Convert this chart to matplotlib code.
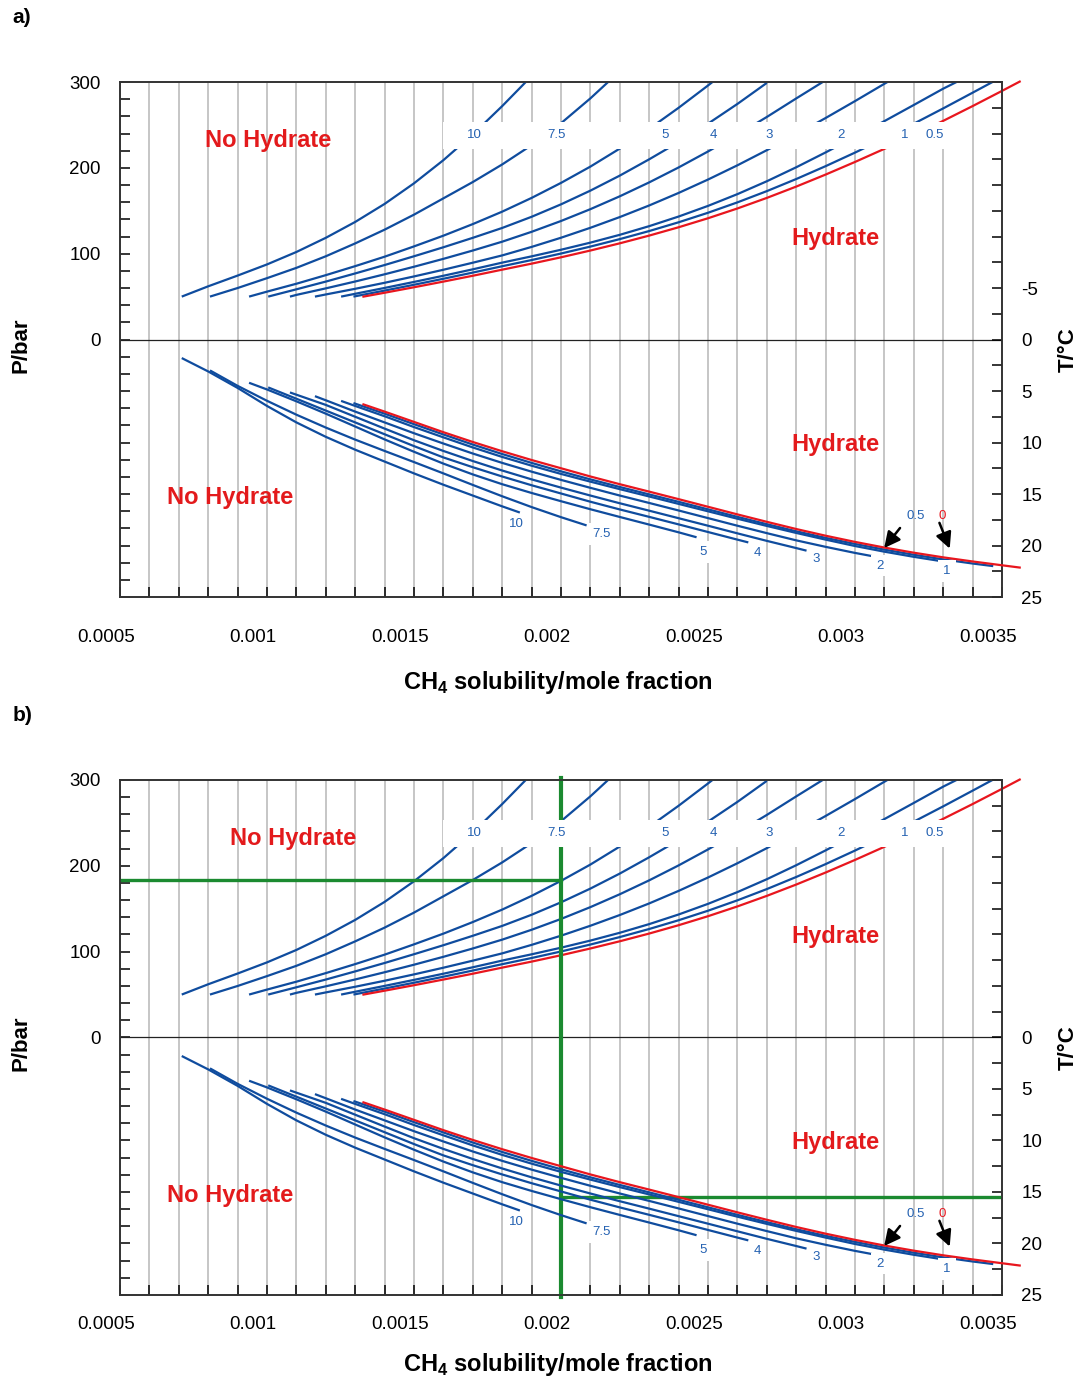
import numpy as np
import matplotlib
matplotlib.use('Agg')
import matplotlib.pyplot as plt
from matplotlib.patches import Rectangle
from matplotlib.transforms import ScaledTranslation

plt.rcParams['font.family'] = ['Liberation Sans', 'DejaVu Sans']
plt.rcParams['mathtext.fontset'] = 'custom'
plt.rcParams['mathtext.rm'] = 'Liberation Sans'
plt.rcParams['mathtext.bf'] = 'Liberation Sans:bold'
plt.rcParams['axes.unicode_minus'] = False

BLUE = '#0f4c9e'
LABEL_BLUE = '#2461b1'
RED = '#e8161e'
GREEN = '#1b8a30'

# upper branch: CH4 mole fraction vs pressure (bar), one pair per NaCl wt%
xp_10 = [0.00071, 0.0008, 0.0009, 0.001, 0.0011, 0.0012, 0.0013, 0.0014, 0.0015,
         0.0016, 0.0017, 0.0018, 0.00188]
p_10 = [50, 62, 74.5, 87.5, 102, 118.5, 137, 158, 182, 209, 239, 272, 300]
xp_75 = [0.000806, 0.0009, 0.001, 0.0011, 0.0012, 0.0013, 0.0014, 0.0015, 0.0016,
         0.0017, 0.0018, 0.0019, 0.002, 0.0021, 0.00216]
p_75 = [50, 60, 71.5, 83.5, 97, 112, 128, 145.5, 164.5, 183.5, 204, 226.5, 252, 281, 300]
xp_5 = [0.000939, 0.001, 0.0011, 0.0012, 0.0013, 0.0014, 0.0015, 0.0016, 0.0017,
        0.0018, 0.0019, 0.002, 0.0021, 0.0022, 0.0023, 0.0024, 0.0025, 0.002515]
p_5 = [50, 55.8, 65, 75, 85.5, 96.5, 108.5, 121, 134.5, 149, 165, 182.5, 201.5,
       222.5, 245.5, 270, 296, 300]
xp_4 = [0.001004, 0.0011, 0.0012, 0.0013, 0.0014, 0.0015, 0.0016, 0.0017, 0.0018,
        0.0019, 0.002, 0.0021, 0.0022, 0.0023, 0.0024, 0.0025, 0.0026, 0.0027]
p_4 = [50, 58.5, 67.5, 77, 86.8, 97, 107.5, 118.5, 130, 143, 157.5, 173.5, 191,
       210, 230, 251.5, 274.5, 299]
xp_3 = [0.001078, 0.0011, 0.0012, 0.0013, 0.0014, 0.0015, 0.0016, 0.0017, 0.0018,
        0.0019, 0.002, 0.0021, 0.0022, 0.0023, 0.0024, 0.0025, 0.0026, 0.0027,
        0.0028, 0.00289]
p_3 = [50, 52, 59.6, 67.6, 76, 84.8, 94, 103.7, 114, 125.5, 138.1, 151.9, 166.9,
       183.1, 200.5, 219.1, 238.7, 259.3, 280.9, 300]
xp_2 = [0.001163, 0.0012, 0.0013, 0.0014, 0.0015, 0.0016, 0.0017, 0.0018, 0.0019,
        0.002, 0.0021, 0.0022, 0.0023, 0.0024, 0.0025, 0.0026, 0.0027, 0.0028,
        0.0029, 0.003, 0.0031, 0.00311]
p_2 = [50, 52.5, 59.1, 66.1, 73.5, 81.3, 89.5, 98, 107.9, 118.6, 130.2, 142.7,
       156.2, 170.8, 186.4, 203, 220.6, 239, 258.1, 277.8, 298, 300]
xp_1 = [0.001252, 0.0013, 0.0014, 0.0015, 0.0016, 0.0017, 0.0018, 0.0019, 0.002,
        0.0021, 0.0022, 0.0023, 0.0024, 0.0025, 0.0026, 0.0027, 0.0028, 0.0029,
        0.003, 0.0031, 0.0032, 0.0033, 0.003345]
p_1 = [50, 53.3, 60.1, 67.1, 74.3, 81.8, 89.6, 96.9, 104.6, 112.9, 122, 132.1,
       143.3, 155.7, 169.4, 184.4, 200.7, 218, 236, 254.5, 273.3, 292.3, 300]
xp_05 = [0.001294, 0.0014, 0.0015, 0.0016, 0.0017, 0.0018, 0.0019, 0.002, 0.0021,
         0.0022, 0.0023, 0.0024, 0.0025, 0.0026, 0.0027, 0.0028, 0.0029, 0.003,
         0.0031, 0.0032, 0.0033, 0.0034, 0.00347]
p_05 = [50, 57, 63.8, 70.8, 78, 85.4, 92.6, 100.2, 108.3, 117, 126.4, 136.6,
        147.7, 159.8, 172.9, 187, 202, 217.8, 234.3, 251.5, 269.3, 287.6, 300.5]
xp_0 = [0.001328, 0.0014, 0.0015, 0.0016, 0.0017, 0.0018, 0.0019, 0.002, 0.0021,
        0.0022, 0.0023, 0.0024, 0.0025, 0.0026, 0.0027, 0.0028, 0.0029, 0.003,
        0.0031, 0.0032, 0.0033, 0.0034, 0.0035, 0.00356]
p_0 = [50, 54.5, 60.9, 67.5, 74.3, 81.4, 88.4, 95.8, 103.7, 112.1, 121.1, 130.8,
       141.3, 152.7, 165, 178.2, 192.2, 206.9, 222.2, 238.2, 254.8, 272, 289.7, 300.5]

# lower branch: CH4 mole fraction vs temperature (deg C)
xt_10 = [0.00071, 0.0008, 0.0009, 0.001, 0.0011, 0.0012, 0.0013, 0.0014, 0.0015,
         0.0016, 0.0017, 0.0018, 0.00186]
t_10 = [1.8, 3.1, 4.7, 6.45, 8.05, 9.45, 10.7, 11.85, 13.0, 14.1, 15.15, 16.2, 16.8]
xt_75 = [0.000806, 0.0009, 0.001, 0.0011, 0.0012, 0.0013, 0.0014, 0.0015, 0.0016,
         0.0017, 0.0018, 0.0019, 0.002, 0.002087]
t_75 = [3.0, 4.5, 5.95, 7.3, 8.55, 9.72, 10.82, 11.9, 13.0, 14.12, 15.22, 16.27,
        17.25, 18.05]
xt_5 = [0.000939, 0.001, 0.0011, 0.0012, 0.0013, 0.0014, 0.0015, 0.0016, 0.0017,
        0.0018, 0.0019, 0.002, 0.0021, 0.0022, 0.0023, 0.0024, 0.002461]
t_5 = [4.2, 4.85, 6.0, 7.2, 8.45, 9.7, 10.9, 12.05, 13.1, 14.05, 14.9, 15.7,
       16.48, 17.23, 17.97, 18.72, 19.2]
xt_4 = [0.001004, 0.0011, 0.0012, 0.0013, 0.0014, 0.0015, 0.0016, 0.0017, 0.0018,
        0.0019, 0.002, 0.0021, 0.0022, 0.0023, 0.0024, 0.0025, 0.0026, 0.002637]
t_4 = [4.65, 5.75, 6.9, 8.05, 9.2, 10.35, 11.45, 12.4, 13.3, 14.15, 14.95, 15.75,
       16.5, 17.22, 17.95, 18.69, 19.43, 19.7]
xt_3 = [0.001078, 0.0012, 0.0013, 0.0014, 0.0015, 0.0016, 0.0017, 0.0018, 0.0019,
        0.002, 0.0021, 0.0022, 0.0023, 0.0024, 0.0025, 0.0026, 0.0027, 0.0028,
        0.002835]
t_3 = [5.14, 6.35, 7.5, 8.65, 9.78, 10.82, 11.8, 12.72, 13.58, 14.38, 15.15, 15.9,
       16.62, 17.35, 18.08, 18.82, 19.55, 20.25, 20.5]
xt_2 = [0.001163, 0.0012, 0.0013, 0.0014, 0.0015, 0.0016, 0.0017, 0.0018, 0.0019,
        0.002, 0.0021, 0.0022, 0.0023, 0.0024, 0.0025, 0.0026, 0.0027, 0.0028,
        0.0029, 0.003, 0.003056]
t_2 = [5.5, 5.9, 7.0, 8.05, 9.1, 10.1, 11.07, 11.98, 12.83, 13.63, 14.4, 15.15,
       15.87, 16.6, 17.34, 18.08, 18.8, 19.5, 20.13, 20.72, 21.02]
xt_1 = [0.001252, 0.0013, 0.0014, 0.0015, 0.0016, 0.0017, 0.0018, 0.0019, 0.002,
        0.0021, 0.0022, 0.0023, 0.0024, 0.0025, 0.0026, 0.0027, 0.0028, 0.0029,
        0.003, 0.0031, 0.0032, 0.0033, 0.003317]
t_1 = [5.96, 6.45, 7.45, 8.5, 9.5, 10.48, 11.4, 12.25, 13.05, 13.8, 14.53, 15.24,
       15.96, 16.68, 17.4, 18.1, 18.78, 19.43, 20.05, 20.6, 21.1, 21.55, 21.62]
xt_05 = [0.001294, 0.0014, 0.0015, 0.0016, 0.0017, 0.0018, 0.0019, 0.002, 0.0021,
         0.0022, 0.0023, 0.0024, 0.0025, 0.0026, 0.0027, 0.0028, 0.0029, 0.003,
         0.0031, 0.0032, 0.0033, 0.0034, 0.00347]
t_05 = [6.17, 7.2, 8.22, 9.22, 10.2, 11.12, 11.98, 12.8, 13.58, 14.32, 15.04, 15.76,
        16.49, 17.22, 17.93, 18.62, 19.26, 19.85, 20.4, 20.9, 21.35, 21.75, 22.0]
xt_0 = [0.001328, 0.0014, 0.0015, 0.0016, 0.0017, 0.0018, 0.0019, 0.002, 0.0021,
        0.0022, 0.0023, 0.0024, 0.0025, 0.0026, 0.0027, 0.0028, 0.0029, 0.003,
        0.0031, 0.0032, 0.0033, 0.0034, 0.0035, 0.00356]
t_0 = [6.3, 7.0, 8.0, 9.0, 9.95, 10.85, 11.7, 12.5, 13.3, 14.05, 14.77, 15.5, 16.24,
       16.98, 17.7, 18.4, 19.05, 19.65, 20.2, 20.7, 21.15, 21.55, 21.92, 22.14]

salinity_labels = ['10', '7.5', '5', '4', '3', '2', '1', '0.5']
upper_curves = [(xp_10, p_10), (xp_75, p_75), (xp_5, p_5), (xp_4, p_4),
                (xp_3, p_3), (xp_2, p_2), (xp_1, p_1), (xp_05, p_05)]
lower_curves = [(xt_10, t_10), (xt_75, t_75), (xt_5, t_5), (xt_4, t_4),
                (xt_3, t_3), (xt_2, t_2), (xt_1, t_1), (xt_05, t_05)]

# curve label positions
top_label_x = [0.001704, 0.001983, 0.002354, 0.002517, 0.002707, 0.002952, 0.00317, 0.003272]
bottom_label_x = [0.001847, 0.002136, 0.002483, 0.002667, 0.002867, 0.003085, 0.003313]
bottom_label_t = [17.96, 18.9, 20.6, 20.7, 21.3, 21.95, 22.5]

xtick_vals = [0.0005, 0.001, 0.0015, 0.002, 0.0025, 0.003, 0.0035]
xtick_text = ['0.0005', '0.001', '0.0015', '0.002', '0.0025', '0.003', '0.0035']

# reading lines on panel b
green_x = 0.002
green_p = 183
green_t = 15.5


def draw_panel(ax, tag, t_ticks, tick_pad, xlabel_y, guides=False):
    fig = ax.figure
    ax.set_xlim(0.0005, 0.0035)
    ax.set_ylim(-300, 300)
    ax.set_xticks(xtick_vals)
    ax.set_xticklabels(xtick_text)
    ax.set_xticks(np.arange(0.0005, 0.00351, 0.0001), minor=True)
    ax.set_yticks([0, 100, 200, 300])
    ax.set_yticks(np.arange(-300, 301, 20), minor=True)
    ax.tick_params(which='both', direction='in', length=7, width=1.1,
                   top=False, right=False, labelsize=13.5)
    ax.tick_params(axis='x', pad=tick_pad)
    ax.tick_params(axis='y', pad=14)
    for lab in ax.get_xticklabels():
        lab.set_transform(lab.get_transform() +
                          ScaledTranslation(-0.14, 0, fig.dpi_scale_trans))
    ax.set_axisbelow(True)
    ax.grid(True, axis='x', which='both', color='#bcbcbc', lw=1.2)
    ax.axhline(0, color='#222222', lw=0.9, zorder=2)
    for s in ax.spines.values():
        s.set_linewidth(1.2)
        s.set_color('#333333')

    ax2 = ax.twinx()
    ax2.set_ylim(25, -25)
    ax2.set_yticks(t_ticks)
    ax2.set_yticks(np.arange(-25, 25.1, 2.5), minor=True)
    ax2.tick_params(which='both', direction='in', length=7, width=1.1,
                    labelsize=13.5, pad=14)
    for s in ax2.spines.values():
        s.set_linewidth(1.2)
        s.set_color('#333333')

    # pressure branch
    for (xs, ps) in upper_curves:
        ax.plot(xs, ps, color=BLUE, lw=1.6, zorder=3, solid_capstyle='butt')
    ax.plot(xp_0, p_0, color=RED, lw=1.6, zorder=3.2, clip_on=False)
    ax.add_patch(Rectangle((0.0016, 222.5), 0.00335 - 0.0016, 30.5,
                           facecolor='white', edgecolor='none', zorder=4))
    for lx, lab in zip(top_label_x, salinity_labels):
        ax.text(lx, 238, lab, color=LABEL_BLUE, fontsize=9.5,
                ha='center', va='center', zorder=5)

    # temperature branch
    for (xs, ts) in lower_curves:
        ax2.plot(xs, ts, color=BLUE, lw=1.6, zorder=3, solid_capstyle='butt')
    ax2.plot(xt_0, t_0, color=RED, lw=1.6, zorder=3.2, clip_on=False)
    for lx, lt, lab in zip(bottom_label_x, bottom_label_t, salinity_labels[:7]):
        ax2.text(lx, lt, lab, color=LABEL_BLUE, fontsize=9.5, ha='center',
                 va='center', zorder=5,
                 bbox=dict(facecolor='white', edgecolor='none', pad=3.5))
    ax2.text(0.003207, 17.1, '0.5', color=LABEL_BLUE, fontsize=9.5,
             ha='center', va='center', zorder=5)
    ax2.text(0.003296, 17.1, '0', color=RED, fontsize=9.5,
             ha='center', va='center', zorder=5)
    arrow = dict(arrowstyle='-|>', color='black', lw=1.8, mutation_scale=24,
                 shrinkA=0, shrinkB=0)
    ax2.annotate('', xy=(0.003099, 20.25), xytext=(0.003153, 18.3),
                 arrowprops=arrow, zorder=6)
    ax2.annotate('', xy=(0.003322, 20.3), xytext=(0.003287, 17.8),
                 arrowprops=arrow, zorder=6)

    if guides:
        ax.axvline(green_x, color=GREEN, lw=3, zorder=3.5, clip_on=False,
                   ymin=-0.003, ymax=1.003)
        ax.plot([0.0005, green_x], [green_p, green_p], color=GREEN, lw=2.4,
                zorder=3.5)
        ax2.plot([green_x, 0.0035], [green_t, green_t], color=GREEN, lw=2.4,
                 zorder=2.5)

    # phase region labels
    region = dict(color='#e31a1c', fontsize=17, fontweight='bold',
                  ha='center', va='center')
    ax.text(0.001003 if not guides else 0.001088, 231.8, 'No Hydrate',
            zorder=5, **region)
    ax.text(0.002932, 117.3, 'Hydrate', zorder=5, **region)
    ax2.text(0.002932, 10.2, 'Hydrate', zorder=5, **region)
    ax2.text(0.000874, 15.3, 'No Hydrate', zorder=5, **region)

    ax.set_xlabel(r'CH$_\mathbf{4}$ solubility/mole fraction',
                  fontsize=17, fontweight='bold')
    ax.xaxis.set_label_coords(0.4966, xlabel_y)
    ax.set_ylabel('P/bar', fontsize=16, fontweight='bold')
    ax.yaxis.set_label_coords(-0.0998, 0.489)
    ax2.set_ylabel('T/°C', fontsize=16, fontweight='bold', rotation=90)
    ax2.yaxis.set_label_coords(1.0635, 0.48)
    ax.text(-0.122, 1.125, tag, transform=ax.transAxes, fontsize=15,
            fontweight='bold', ha='left', va='center')


fig = plt.figure(figsize=(10.86, 13.81), dpi=100)
ax_a = fig.add_axes([0.1105, 0.5677, 0.8122, 0.3729])
ax_b = fig.add_axes([0.1105, 0.0623, 0.8122, 0.3729])

draw_panel(ax_a, 'a)', [-5, 0, 5, 10, 15, 20, 25], 23, -0.1398)
draw_panel(ax_b, 'b)', [0, 5, 10, 15, 20, 25], 15, -0.1087, guides=True)

fig.savefig('out.png', dpi=100)
